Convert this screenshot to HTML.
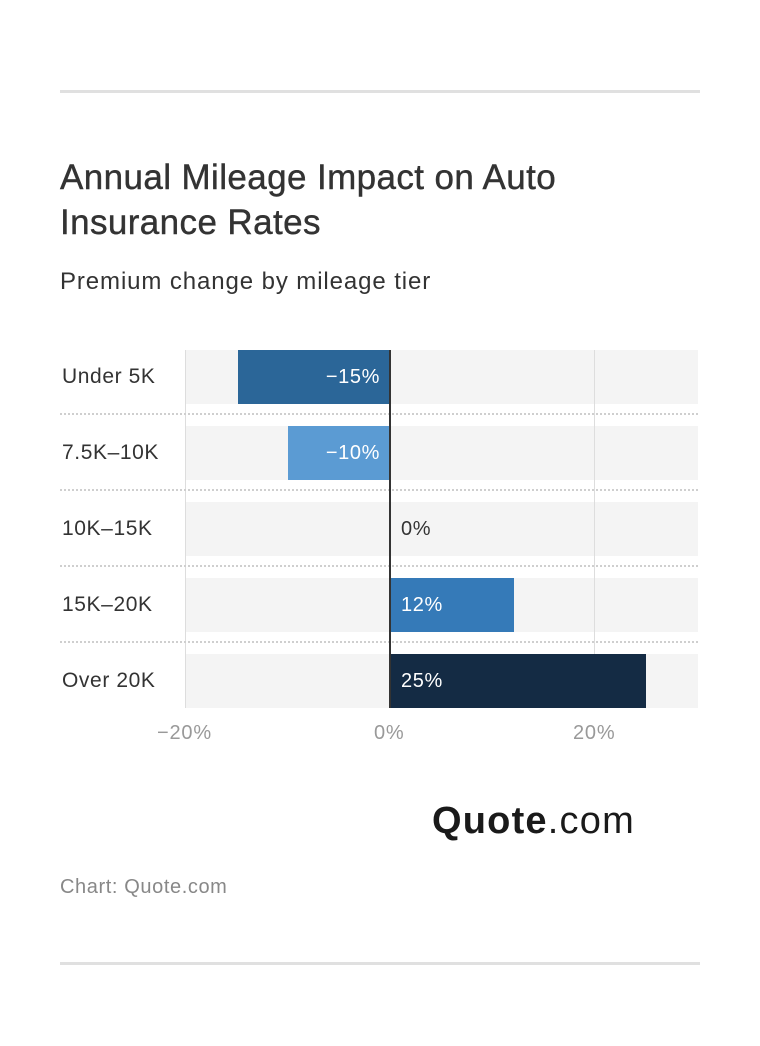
<!DOCTYPE html>
<html><head><meta charset="utf-8"><style>
body{margin:0;background:#fff;width:760px;height:1046px;position:relative;font-family:"Liberation Sans",sans-serif;overflow:hidden}
.a{position:absolute}
.hr{left:60px;width:640px;height:3px;background:#e0e0e0}
.band{left:186px;width:512px;height:54px;background:#f4f4f4}
.dot{left:60px;width:638px;border-top:2px dotted #cfcfcf}
.lab{left:62px;font-size:21px;color:#333;line-height:54px;letter-spacing:0.6px}
.bar{height:54px}
.v{font-size:20px;line-height:54px;color:#fff;letter-spacing:0.6px}
.tick{font-size:20px;color:#999;top:722px;letter-spacing:0.8px}
</style></head><body>
<div class="a hr" style="top:90px"></div>
<div class="a" style="left:60px;top:155px;font-size:35px;line-height:45px;color:#333;width:560px;letter-spacing:0.4px;-webkit-text-stroke:0.4px #333">Annual Mileage Impact on Auto Insurance Rates</div>
<div class="a" style="left:60px;top:268px;font-size:24px;color:#333;letter-spacing:0.9px">Premium change by mileage tier</div>

<div class="a band" style="top:350px"></div>
<div class="a band" style="top:426px"></div>
<div class="a band" style="top:502px"></div>
<div class="a band" style="top:578px"></div>
<div class="a band" style="top:654px"></div>
<div class="a" style="left:185px;top:350px;width:1px;height:358px;background:#ddd"></div>
<div class="a" style="left:594px;top:350px;width:1px;height:358px;background:#ddd"></div>
<div class="a dot" style="top:413px"></div>
<div class="a dot" style="top:489px"></div>
<div class="a dot" style="top:565px"></div>
<div class="a dot" style="top:641px"></div>

<div class="a lab" style="top:350px">Under 5K</div>
<div class="a lab" style="top:426px">7.5K–10K</div>
<div class="a lab" style="top:502px">10K–15K</div>
<div class="a lab" style="top:578px">15K–20K</div>
<div class="a lab" style="top:654px">Over 20K</div>

<div class="a bar" style="left:238px;width:152px;top:350px;background:#2b6698"></div>
<div class="a v" style="right:380px;top:350px">−15%</div>
<div class="a bar" style="left:288px;width:102px;top:426px;background:#5b9bd3"></div>
<div class="a v" style="right:380px;top:426px">−10%</div>
<div class="a v" style="left:401px;top:502px;color:#333">0%</div>
<div class="a bar" style="left:390px;width:124px;top:578px;background:#357ab8"></div>
<div class="a v" style="left:401px;top:578px">12%</div>
<div class="a bar" style="left:390px;width:256px;top:654px;background:#142b44"></div>
<div class="a v" style="left:401px;top:654px">25%</div>
<div class="a" style="left:389px;top:350px;width:2px;height:358px;background:#333"></div>

<div class="a tick" style="left:157px">−20%</div>
<div class="a tick" style="left:374px">0%</div>
<div class="a tick" style="left:573px">20%</div>

<div class="a" style="left:432px;top:800px;font-size:38px;color:#1a1a1a;letter-spacing:1.2px"><b>Quote</b>.com</div>
<div class="a" style="left:60px;top:876px;font-size:20px;color:#888;letter-spacing:0.6px">Chart: Quote.com</div>
<div class="a hr" style="top:962px"></div>
</body></html>
